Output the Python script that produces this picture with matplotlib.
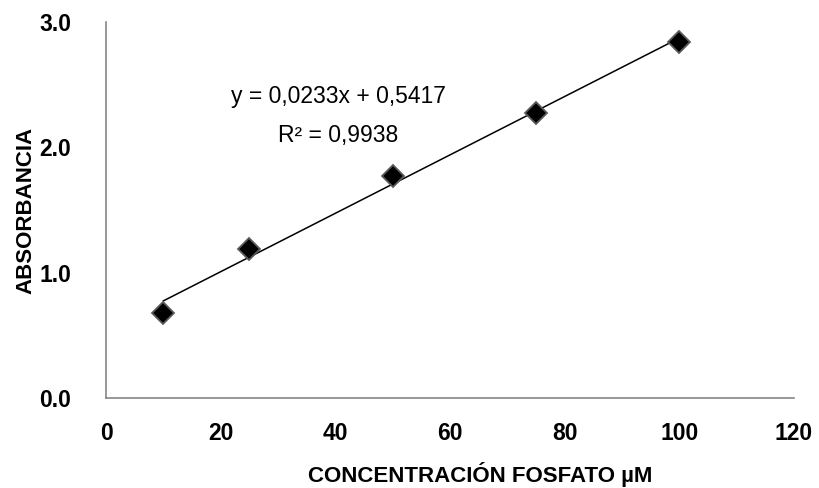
import matplotlib
matplotlib.use("Agg")
import matplotlib.pyplot as plt
import numpy as np

concentracion = [10, 25, 50, 75, 100]
absorbancia = [0.68, 1.19, 1.77, 2.27, 2.84]
pendiente = 0.0233
intercepto = 0.5417
ecuacion = "y = 0,0233x + 0,5417\nR² = 0,9938"
xticks = [0, 20, 40, 60, 80, 100, 120]
yticks = [0.0, 1.0, 2.0, 3.0]

plt.rcParams['font.family'] = ['Liberation Sans', 'DejaVu Sans']

fig = plt.figure(figsize=(8.19, 4.88), dpi=100)
ax = fig.add_axes([106/819, 1-398/488, (794-106)/819, (398-22)/488])

xs = np.array([concentracion[0], concentracion[-1]])
ax.plot(xs, pendiente*xs + intercepto, color='black', lw=1.1, zorder=2)
ax.plot(concentracion, absorbancia, linestyle='none', marker='D', markersize=11,
        markerfacecolor='black', markeredgecolor='#5a5a5a', markeredgewidth=1.3, zorder=3)

ax.set_xlim(0, 120)
ax.set_ylim(0, 3.0)
ax.set_xticks(xticks)
ax.set_xticklabels([str(t) for t in xticks])
ax.set_yticks(yticks)
ax.set_yticklabels([f"{t:.1f}" for t in yticks])
ax.tick_params(length=0, labelsize=16.5)
ax.tick_params(axis='x', pad=17)
ax.tick_params(axis='y', pad=25)
for lab in ax.get_xticklabels() + ax.get_yticklabels():
    lab.set_fontweight('bold')

for s in ['top', 'right']:
    ax.spines[s].set_visible(False)
for s in ['left', 'bottom']:
    ax.spines[s].set_color('#868686')
    ax.spines[s].set_linewidth(1.2)

ax.set_xlabel("CONCENTRACIÓN FOSFATO µM", fontsize=16, fontweight='bold')
ax.xaxis.set_label_coords((480-106)/688, -(482-398)/376, transform=ax.transAxes)
ax.xaxis.label.set_va('baseline')
ax.set_ylabel("ABSORBANCIA", fontsize=16, fontweight='bold')
ax.yaxis.set_label_coords(-(106-15)/688, 0.5, transform=ax.transAxes)
ax.yaxis.label.set_va('top')

ax.text(40.5, 2.25, ecuacion, ha='center', va='center', fontsize=16.5, linespacing=1.9)

fig.savefig("out.png", dpi=100)
